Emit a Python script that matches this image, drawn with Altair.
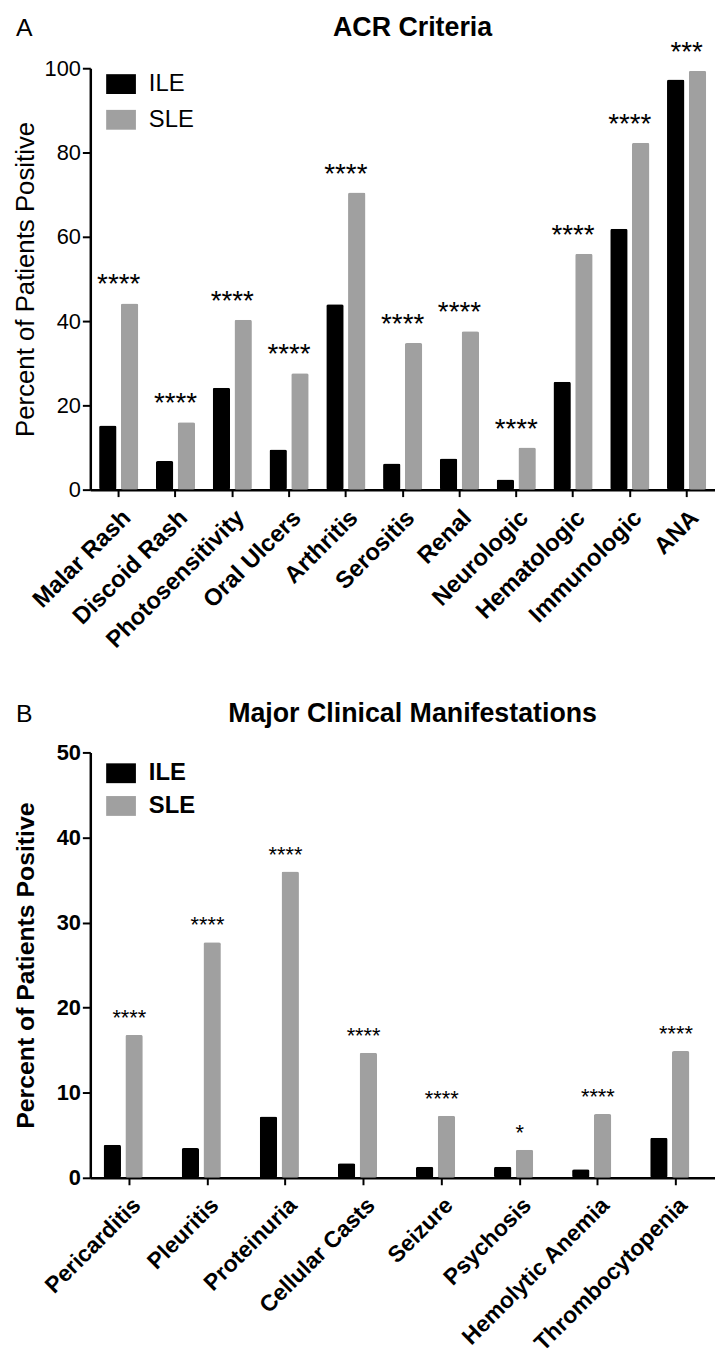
import altair as alt
import pandas as pd

# ---------------- data ----------------
acr_categories = ["Malar Rash", "Discoid Rash", "Photosensitivity", "Oral Ulcers",
                  "Arthritis", "Serositis", "Renal", "Neurologic", "Hematologic",
                  "Immunologic", "ANA"]
acr_ile = [15.2, 6.8, 24.2, 9.5, 44.0, 6.2, 7.4, 2.4, 25.6, 61.9, 97.3]
acr_sle = [44.2, 16.0, 40.3, 27.6, 70.5, 34.8, 37.6, 10.0, 56.0, 82.3, 99.4]
acr_sig = ["****", "****", "****", "****", "****", "****", "****", "****",
           "****", "****", "***"]

major_categories = ["Pericarditis", "Pleuritis", "Proteinuria", "Cellular Casts",
                    "Seizure", "Psychosis", "Hemolytic Anemia", "Thrombocytopenia"]
major_ile = [3.9, 3.5, 7.2, 1.7, 1.3, 1.3, 1.0, 4.7]
major_sle = [16.8, 27.7, 36.0, 14.7, 7.3, 3.3, 7.5, 14.9]
major_sig = ["****", "****", "****", "****", "****", "*", "****", "****"]

groups = ["ILE", "SLE"]
colors = ["#000000", "#a0a0a0"]

FONT = "Liberation Sans"
W = 630


def panel(cats, ile, sle, sig, title, letter, ymax, ticks, height,
          pad_inner, off_inner, weight, ytitle_size, xlabel_size,
          star_size, star_dy, head_y, legend_y, legend_row):
    rows = []
    for c, a, b in zip(cats, ile, sle):
        rows.append({"category": c, "group": "ILE", "value": a})
        rows.append({"category": c, "group": "SLE", "value": b})
    df = pd.DataFrame(rows)
    sdf = pd.DataFrame({"category": cats, "sle": sle, "sig": sig})

    xenc = alt.X(
        "category:N", sort=cats,
        scale=alt.Scale(paddingInner=pad_inner, paddingOuter=pad_inner / 2),
        axis=alt.Axis(title=None, labelAngle=-45, labelAlign="right",
                      labelBaseline="top", labelFont=FONT,
                      labelFontSize=xlabel_size,
                      labelFontWeight="bold", labelColor="#000",
                      labelPadding=9, labelOverlap=False, labelLimit=400,
                      domainColor="#000", domainWidth=2.5,
                      tickColor="#000", tickWidth=2, tickSize=7))
    yenc = alt.Y(
        "value:Q",
        scale=alt.Scale(domain=[0, ymax], nice=False),
        axis=alt.Axis(title="Percent of Patients Positive", values=ticks,
                      titleFont=FONT, titleFontSize=ytitle_size,
                      titleFontWeight=weight,
                      titleColor="#000", titlePadding=6,
                      labelFont=FONT, labelFontSize=22, labelFontWeight=weight,
                      labelColor="#000", labelPadding=2,
                      minExtent=46, maxExtent=46,
                      domainColor="#000", domainWidth=2.5,
                      tickColor="#000", tickWidth=2, tickSize=8,
                      grid=False))

    bars = alt.Chart(df).mark_bar(cornerRadius=2).encode(
        x=xenc,
        xOffset=alt.XOffset("group:N", sort=groups,
                            scale=alt.Scale(paddingInner=off_inner, paddingOuter=0)),
        y=yenc,
        color=alt.Color(
            "group:N",
            scale=alt.Scale(domain=groups, range=colors),
            legend=alt.Legend(title=None, orient="none", legendX=19,
                              legendY=legend_y,
                              symbolType="M-1.5,-1H1.5V1H-1.5Z", symbolSize=400,
                              symbolStrokeWidth=0, symbolOpacity=1,
                              labelFont=FONT, labelFontSize=24,
                              labelFontWeight=weight, labelColor="#000",
                              labelOffset=16, rowPadding=legend_row)),
    )

    stars = alt.Chart(sdf).mark_text(
        font=FONT, fontSize=star_size, color="#000", baseline="alphabetic",
        dy=star_dy
    ).encode(
        x=alt.X("category:N", sort=cats),
        y=alt.Y("sle:Q"),
        text="sig:N",
    )

    lab = alt.Chart(pd.DataFrame({"t": [letter]})).mark_text(
        font=FONT, fontSize=25, color="#000", align="left", baseline="alphabetic"
    ).encode(x=alt.value(-75), y=alt.value(head_y), text="t:N")

    head = alt.Chart(pd.DataFrame({"t": [title]})).mark_text(
        font=FONT, fontSize=27, fontWeight="bold", color="#000",
        align="center", baseline="alphabetic"
    ).encode(x=alt.value(W / 2 + 10), y=alt.value(head_y), text="t:N")

    return alt.layer(bars, stars, lab, head).properties(width=W, height=height)


pA = panel(acr_categories, acr_ile, acr_sle, acr_sig, "ACR Criteria", "A",
           100, [0, 20, 40, 60, 80, 100], 425, 0.31, 0.2, "normal", 26, 24,
           28, -10, -33, 4, 12)
pB = panel(major_categories, major_ile, major_sle, major_sig,
           "Major Clinical Manifestations", "B",
           50, [0, 10, 20, 30, 40, 50], 429, 0.34, 0.26, "bold", 25, 23,
           22, -10, -31, 9, 9)

chart = alt.vconcat(pA, pB, spacing=47).resolve_scale(
    color="independent"
).resolve_legend(
    color="independent"
).properties(
    padding={"left": 5, "top": 0, "right": 0, "bottom": 0}
).configure(font=FONT).configure_view(stroke=None, strokeWidth=0)

chart.save("out.html", embed_options={"renderer": "svg", "actions": False})
